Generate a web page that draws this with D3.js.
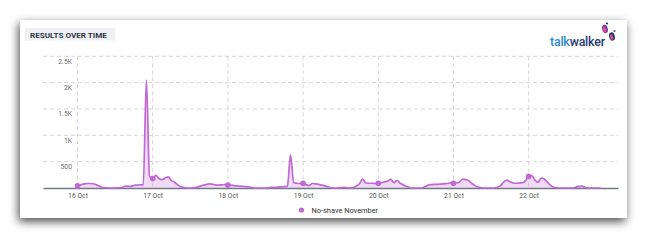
<!DOCTYPE html>
<html><head><meta charset="utf-8">
<script src="https://cdn.jsdelivr.net/npm/d3@7"></script>
<style>
html,body{margin:0;padding:0;background:#fff;}
svg{display:block;font-family:Roboto,"Open Sans",sans-serif;}
</style></head>
<body><svg id="c" width="648" height="240"></svg>
<script>
// ---- data ----
const title = "RESULTS OVER TIME";
const seriesName = "No-shave November";
const startDate = "2023-10-16T00:00:00Z"; // hourly series start
const yTicks = [500, 1000, 1500, 2000, 2500];
const yTickLabels = ["500", "1K", "1.5K", "2K", "2.5K"];
const dayTicks = ["2023-10-16","2023-10-17","2023-10-18","2023-10-19","2023-10-20","2023-10-21","2023-10-22"];
const oct16 = [40,60,75,85,85,80,60,35,10,5,0,0,0,5,5,30,35,30,50,55,60,60,2050,220];
const oct17 = [180,240,180,160,190,210,140,110,60,25,10,0,0,5,15,30,50,65,80,75,60,55,60,65];
const oct18 = [55,55,45,40,35,30,25,15,5,0,0,0,0,5,10,10,15,20,25,35,630,100,90,85];
const oct19 = [90,60,50,85,80,70,55,40,20,5,0,0,5,10,5,0,10,40,80,170,95,90,90,85];
const oct20 = [90,100,115,130,165,100,140,90,60,30,10,0,0,0,5,30,55,65,70,70,75,80,85,95];
const oct21 = [90,95,120,170,160,130,80,40,20,5,0,0,0,0,15,45,110,150,120,95,90,95,100,140];
const oct22 = [220,230,150,110,190,170,110,50,15,5,0,0,0,0,0,15,30,35,10,0,0,0,0,0];
const values = [].concat(oct16, oct17, oct18, oct19, oct20, oct21, oct22);

// ---- layout ----
const svg = d3.select("#c");
const t0 = new Date(startDate).getTime();
const H = 3600*1000;
const data = values.map((v,i)=>({t:new Date(t0+i*H), v}));

const defs = svg.append("defs");
const f = defs.append("filter").attr("id","sh").attr("x","-10%").attr("y","-20%").attr("width","120%").attr("height","140%");
f.append("feDropShadow").attr("dx",-1.5).attr("dy",3.5).attr("stdDeviation",5).attr("flood-color","#000").attr("flood-opacity",0.7);

svg.append("rect").attr("x",20).attr("y",20).attr("width",607).attr("height",198).attr("fill","#fff").attr("filter","url(#sh)");

// title
svg.append("rect").attr("x",25).attr("y",28).attr("width",90).attr("height",12.5).attr("fill","#eef0f4");
svg.append("text").attr("x",30).attr("y",37.8).attr("font-size",8.1).attr("font-weight",700).attr("fill","#2e3746").text(title);

// logo
const logo = svg.append("text").attr("x",550).attr("y",45.5).attr("font-size",12.4).attr("font-weight",500).attr("font-family","Roboto, sans-serif").attr("letter-spacing",-0.2);
logo.append("tspan").attr("fill","#2b8ad3").text("talk");
logo.append("tspan").attr("fill","#1f3a73").text("walker");
const fp = svg.append("g");
fp.append("ellipse").attr("cx",605).attr("cy",29).attr("rx",2.8).attr("ry",4.2).attr("transform","rotate(-15,605,29)").attr("fill","#7a3aa8");
fp.append("ellipse").attr("cx",604.5).attr("cy",29.5).attr("rx",1.6).attr("ry",3).attr("transform","rotate(-15,605,29)").attr("fill","#e04c8c");
fp.append("circle").attr("cx",607).attr("cy",23.5).attr("r",1.1).attr("fill","#1f3a73");
fp.append("ellipse").attr("cx",612).attr("cy",36.5).attr("rx",2.8).attr("ry",4.2).attr("transform","rotate(-15,612,36.5)").attr("fill","#1f3a73");
fp.append("ellipse").attr("cx",611.5).attr("cy",37).attr("rx",1.5).attr("ry",2.8).attr("transform","rotate(-15,612,36.5)").attr("fill","#e04c8c");
fp.append("circle").attr("cx",614.5).attr("cy",31).attr("r",1.1).attr("fill","#7a3aa8");

// scales
const x = d3.scaleUtc()
  .domain([new Date(t0 - 11*H), new Date(t0 + 172.5*H)])
  .range([43, 618]);
const y = d3.scaleLinear().domain([0, 2500]).range([188, 56.3]);

// grid
const g = svg.append("g");
g.selectAll("line.h").data(yTicks).join("line")
  .attr("x1",43).attr("x2",618).attr("y1",d=>y(d)).attr("y2",d=>y(d))
  .attr("stroke","#d6d6d6").attr("stroke-width",1).attr("stroke-dasharray","4,3");
const days = dayTicks.map(d=>new Date(d+"T00:00:00Z"));
g.selectAll("line.v").data(days).join("line")
  .attr("x1",d=>x(d)).attr("x2",d=>x(d)).attr("y1",56.3).attr("y2",188)
  .attr("stroke","#d6d6d6").attr("stroke-width",1).attr("stroke-dasharray","4,3");

// y labels
g.selectAll("text.yl").data(yTicks).join("text")
  .attr("x",72).attr("y",d=>y(d)+7.5).attr("text-anchor","end")
  .attr("font-size",6.8).attr("fill","#6b6b6b")
  .text((d,i)=>yTickLabels[i]);

// x axis
const xa = svg.append("g").attr("transform","translate(0,188)")
  .call(d3.axisBottom(x).tickValues(days).tickFormat(d3.utcFormat("%-d %b")).tickSize(0).tickPadding(5));
xa.select(".domain").attr("stroke","#707a85").attr("stroke-width",1.5);
xa.selectAll("text").attr("font-size",6.8).attr("fill","#555").attr("font-family","Roboto, sans-serif");

// area + line
const area = d3.area().x(d=>x(d.t)).y0(y(0)).y1(d=>y(d.v)).curve(d3.curveMonotoneX);
const line = d3.line().x(d=>x(d.t)).y(d=>y(d.v)).curve(d3.curveMonotoneX);
svg.append("path").datum(data).attr("d",area).attr("fill","#c46fd8").attr("fill-opacity",0.25);
svg.append("path").datum(data).attr("d",line).attr("fill","none").attr("stroke","#c068d6").attr("stroke-width",1.7).attr("stroke-linejoin","round");
svg.selectAll("circle.m").data(data.filter((d,i)=>i%24===0)).join("circle")
  .attr("cx",d=>x(d.t)).attr("cy",d=>y(d.v)).attr("r",2.8).attr("fill","#c068d6");

// legend
svg.append("circle").attr("cx",301.5).attr("cy",210).attr("r",2.6).attr("fill","#c068d6");
svg.append("text").attr("x",311.5).attr("y",212.6).attr("font-size",7.4).attr("fill","#333").text(seriesName);
</script></body></html>
